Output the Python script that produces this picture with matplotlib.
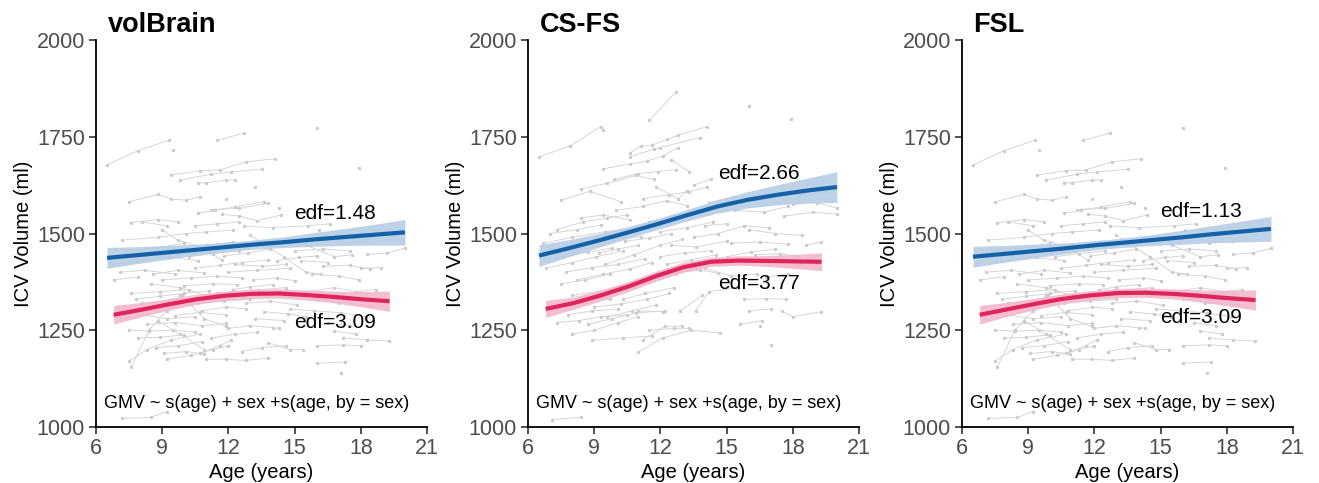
import matplotlib
matplotlib.use("Agg")
import matplotlib.pyplot as plt

plt.rcParams['font.family'] = ['Liberation Sans', 'DejaVu Sans']

# ---- data -------------------------------------------------------------
panel_titles = ["volBrain", "CS-FS", "FSL"]
x_ticks = [6, 9, 12, 15, 18, 21]
y_ticks = [1000, 1250, 1500, 1750, 2000]
formula = "GMV ~ s(age) + sex +s(age, by = sex)"

subjects_vb = [
    [(6.5, 1677), (7.9, 1714), (9.3, 1741)],
    [(11.5, 1741), (12.7, 1759)],
    [(9.5, 1717)],
    [(16.0, 1773)],
    [(17.9, 1668)],
    [(9.4, 1651), (10.7, 1662), (11.6, 1664), (12.8, 1685), (14.1, 1693)],
    [(9.8, 1638), (11.2, 1653), (12.1, 1659), (13.5, 1666)],
    [(10.6, 1631), (11.0, 1631), (11.9, 1638), (12.3, 1638)],
    [(13.2, 1621)],
    [(7.5, 1582), (8.8, 1601), (9.4, 1589), (10.1, 1586), (10.7, 1595)],
    [(11.9, 1588)],
    [(11.2, 1562), (12.5, 1565), (13.8, 1578)],
    [(10.6, 1552), (11.4, 1560), (12.3, 1569), (13.6, 1582)],
    [(7.6, 1528), (8.8, 1536), (9.7, 1530)],
    [(11.7, 1550), (12.5, 1545), (13.3, 1533), (14.4, 1548)],
    [(14.3, 1565)],
    [(16.1, 1508)],
    [(7.2, 1483), (8.8, 1490), (10.1, 1500), (11.0, 1504), (12.2, 1509)],
    [(9.0, 1509), (9.7, 1483), (10.8, 1465), (11.7, 1431)],
    [(7.3, 1455), (8.7, 1462), (10.0, 1475)],
    [(6.7, 1420), (7.8, 1428), (9.3, 1440), (10.5, 1452)],
    [(12.7, 1520), (14.0, 1515), (15.6, 1520), (16.6, 1525)],
    [(14.6, 1483), (15.5, 1470), (16.8, 1440), (17.6, 1445)],
    [(18.3, 1446), (19.2, 1450), (20.0, 1462)],
    [(13.0, 1495), (14.5, 1440), (15.5, 1400), (16.2, 1395)],
    [(16.3, 1415), (17.5, 1418), (18.4, 1408)],
    [(11.8, 1442), (12.9, 1450), (13.9, 1460)],
    [(8.2, 1445), (9.4, 1438), (10.6, 1430)],
    [(10.5, 1410), (11.6, 1418), (12.6, 1425), (13.8, 1432)],
    [(15.3, 1430), (16.5, 1425)],
    [(17.2, 1475), (18.3, 1480)],
    [(12.0, 1400), (13.3, 1405), (14.8, 1410)],
    [(7.1, 1400), (8.2, 1405), (9.6, 1395)],
    [(6.8, 1380), (7.9, 1388)],
    [(9.0, 1380), (10.3, 1385), (11.5, 1390), (12.6, 1385)],
    [(13.1, 1380), (14.2, 1385), (15.0, 1378)],
    [(15.8, 1395), (17.0, 1390), (17.9, 1380)],
    [(8.5, 1370), (9.8, 1360), (11.0, 1340), (11.8, 1330)],
    [(10.0, 1365), (11.3, 1370), (12.4, 1368)],
    [(14.5, 1340), (15.6, 1350), (16.8, 1360), (18.3, 1345)],
    [(7.6, 1345), (8.9, 1350), (10.2, 1355)],
    [(12.8, 1320), (13.9, 1325), (15.1, 1315)],
    [(7.0, 1310), (8.1, 1320), (9.3, 1325)],
    [(10.8, 1300), (11.9, 1310), (12.8, 1305)],
    [(8.0, 1290), (9.2, 1280), (10.5, 1285)],
    [(13.2, 1280), (14.5, 1275)],
    [(15.9, 1300), (17.1, 1295), (18.2, 1285)],
    [(8.3, 1265), (9.6, 1270), (10.8, 1262), (11.9, 1268)],
    [(7.5, 1250), (8.4, 1248), (9.5, 1250), (10.5, 1245)],
    [(12.0, 1255), (13.0, 1262), (14.3, 1255)],
    [(16.5, 1270), (17.5, 1262)],
    [(17.2, 1230), (18.3, 1225), (19.3, 1222)],
    [(16.0, 1210), (17.2, 1212), (18.0, 1210)],
    [(16.0, 1165), (17.3, 1168)],
    [(17.1, 1140)],
    [(7.5, 1170), (8.3, 1200), (9.4, 1225), (10.7, 1240)],
    [(7.6, 1155), (8.4, 1250), (9.2, 1300), (9.8, 1340)],
    [(9.1, 1190), (10.1, 1195), (10.9, 1188)],
    [(9.2, 1175), (10.3, 1185), (11.3, 1200), (12.0, 1210)],
    [(11.0, 1175), (11.9, 1175), (12.8, 1172), (13.8, 1178)],
    [(10.7, 1190), (11.6, 1210), (12.1, 1225)],
    [(8.7, 1205), (9.7, 1210), (10.8, 1220)],
    [(13.8, 1218), (14.8, 1200), (15.4, 1200)],
    [(11.2, 1230), (12.3, 1240), (13.3, 1245)],
    [(14.0, 1255)],
    [(7.2, 1022), (8.5, 1025), (9.2, 1040)],
    [(9.3, 1310), (10.6, 1320), (11.8, 1325), (13.0, 1330)],
    [(14.8, 1305), (15.9, 1300)],
    [(11.5, 1345), (12.3, 1350), (13.4, 1355), (14.6, 1360)],
    [(16.0, 1330), (17.0, 1320), (18.5, 1315)],
    [(6.9, 1460)],
    [(8.1, 1530), (9.2, 1520)],
    [(10.5, 1520), (11.5, 1525), (12.5, 1530)],
    [(11.0, 1470), (12.2, 1478), (13.5, 1470), (14.8, 1475)],
    [(15.0, 1455), (16.3, 1460), (17.5, 1455)],
    [(18.0, 1410), (18.9, 1412)],
    [(12.3, 1420), (13.5, 1415), (14.6, 1420)],
    [(9.9, 1340), (10.9, 1280), (11.9, 1260)],
    [(8.8, 1275), (9.8, 1240), (10.9, 1200)],
    [(16.8, 1248), (17.8, 1240)],
    [(7.8, 1330), (8.9, 1338), (10.0, 1345), (11.1, 1352)],
    [(8.6, 1395), (9.7, 1405), (10.9, 1398)],
    [(12.2, 1355), (13.0, 1362), (14.0, 1368)],
    [(9.6, 1288), (10.7, 1296), (11.9, 1290)],
    [(13.6, 1298), (14.7, 1292), (15.5, 1285)],
    [(7.9, 1230), (8.9, 1232), (10.0, 1238)],
    [(12.6, 1195), (13.5, 1205), (14.6, 1210)],
    [(10.2, 1440), (11.3, 1448), (12.5, 1455)],
    [(14.2, 1430), (15.2, 1438), (16.0, 1442)],
    [(17.8, 1350), (18.7, 1355)],
]

# individual trajectories
subjects_cs = [
    [(6.5, 1698), (7.9, 1726), (9.3, 1776)],
    [(9.4, 1768)],
    [(11.5, 1793), (12.7, 1865)],
    [(16.0, 1829)],
    [(17.9, 1797)],
    [(10.6, 1707), (11.1, 1726), (11.6, 1728), (12.3, 1743), (12.8, 1754), (14.1, 1776)],
    [(10.6, 1698), (11.7, 1718), (12.0, 1722), (13.8, 1748)],
    [(9.4, 1667), (10.6, 1680), (11.4, 1687), (12.1, 1700), (12.8, 1722)],
    [(9.9, 1640), (11.0, 1655), (11.9, 1660), (12.7, 1665)],
    [(12.5, 1690), (13.3, 1660)],
    [(7.5, 1586), (8.8, 1609), (10.2, 1582)],
    [(8.4, 1615), (9.6, 1630), (10.9, 1650), (11.7, 1640)],
    [(11.2, 1590), (12.4, 1600), (13.3, 1608), (14.1, 1620)],
    [(10.0, 1560), (11.2, 1570), (12.3, 1585), (13.2, 1572)],
    [(7.3, 1510), (8.5, 1530), (9.6, 1540), (10.5, 1548)],
    [(7.0, 1500), (8.2, 1510), (9.3, 1522)],
    [(6.7, 1475), (8.0, 1490), (9.5, 1505), (10.7, 1512)],
    [(8.5, 1470), (9.9, 1485), (11.1, 1492)],
    [(11.5, 1530), (12.6, 1545), (13.7, 1560), (14.8, 1570)],
    [(12.0, 1505), (13.2, 1515), (14.4, 1530)],
    [(13.5, 1490), (14.6, 1500), (15.8, 1520), (16.9, 1515)],
    [(14.2, 1580), (15.3, 1595), (16.5, 1590)],
    [(15.4, 1560), (16.7, 1555), (17.8, 1570)],
    [(16.0, 1510), (17.2, 1500), (18.4, 1495)],
    [(17.6, 1545), (18.9, 1555), (20.0, 1550)],
    [(15.2, 1475), (16.5, 1478), (17.8, 1472)],
    [(16.3, 1445), (17.4, 1448), (18.3, 1440)],
    [(12.5, 1470), (13.6, 1465), (15.0, 1480)],
    [(6.8, 1410), (8.0, 1425), (9.1, 1440), (10.3, 1455)],
    [(7.7, 1400), (8.9, 1412), (10.1, 1420), (11.3, 1435)],
    [(8.2, 1380), (9.4, 1395), (10.6, 1408), (11.6, 1425)],
    [(9.5, 1420), (10.8, 1445), (12.0, 1470), (13.0, 1485)],
    [(7.5, 1370), (8.6, 1380), (9.7, 1395)],
    [(10.0, 1360), (11.2, 1375), (12.3, 1392)],
    [(12.7, 1400), (13.8, 1405), (14.6, 1398)],
    [(8.0, 1340), (9.2, 1350), (10.4, 1362), (11.5, 1375)],
    [(7.4, 1315), (8.5, 1325), (9.7, 1330)],
    [(9.0, 1310), (10.2, 1318), (11.4, 1330), (12.4, 1345)],
    [(7.8, 1290), (8.9, 1300), (10.1, 1305)],
    [(7.3, 1270), (8.3, 1275), (9.3, 1285), (10.5, 1290)],
    [(8.7, 1265), (9.8, 1280), (10.9, 1295), (12.2, 1300)],
    [(11.0, 1300), (12.1, 1298)],
    [(13.6, 1300), (14.2, 1350), (15.5, 1360)],
    [(14.0, 1410), (15.2, 1390), (16.4, 1395)],
    [(15.8, 1330), (16.8, 1332), (17.7, 1330)],
    [(17.5, 1300), (18.0, 1285), (19.3, 1298)],
    [(16.0, 1300), (17.0, 1305)],
    [(15.6, 1265), (16.6, 1275)],
    [(16.5, 1260)],
    [(17.0, 1212)],
    [(8.0, 1240), (9.0, 1250), (10.1, 1270), (11.0, 1285)],
    [(8.9, 1224), (10.3, 1230), (11.6, 1235)],
    [(11.0, 1194), (12.1, 1230), (13.4, 1250), (14.7, 1243)],
    [(11.2, 1225), (12.2, 1260), (13.0, 1260)],
    [(11.5, 1250), (12.6, 1255), (13.3, 1255)],
    [(7.1, 1019), (8.4, 1025)],
    [(12.9, 1300), (13.9, 1340)],
    [(10.3, 1330), (11.3, 1345), (12.6, 1360)],
    [(16.8, 1388), (17.8, 1395)],
    [(17.2, 1440), (18.3, 1420), (19.1, 1425)],
    [(18.6, 1470), (19.3, 1478)],
    [(12.0, 1440), (13.1, 1450), (14.3, 1455)],
    [(10.4, 1480), (11.5, 1488), (12.5, 1500)],
    [(14.0, 1520), (15.0, 1525)],
    [(8.4, 1540), (9.4, 1548), (10.6, 1535)],
    [(11.8, 1620), (12.8, 1590), (13.2, 1610)],
    [(13.5, 1625), (14.3, 1640)],
    [(18.3, 1600), (19.5, 1608)],
    [(18.0, 1575), (19.1, 1580), (20.0, 1565)],
    [(9.2, 1450), (10.1, 1460), (11.0, 1470)],
    [(7.6, 1440), (8.7, 1452), (9.8, 1462)],
    [(11.6, 1380), (12.7, 1395), (13.6, 1412)],
    [(9.6, 1285), (10.7, 1300), (11.8, 1315)],
    [(12.3, 1420), (13.4, 1432), (14.5, 1445)],
    [(15.0, 1440), (16.1, 1452), (17.2, 1460)],
]

# fitted GAM curves (male = blue, female = pink) with half-width of the CI band
age_m = [6.5, 7.85, 9.2, 10.55, 11.9, 13.25, 14.6, 15.95, 17.3, 18.65, 20.0]
age_f = [6.8, 8.05, 9.3, 10.55, 11.8, 13.05, 14.3, 15.55, 16.8, 18.05, 19.3]

fit_m = {
    "volBrain": [1437, 1444, 1451, 1458, 1465, 1472, 1478, 1485, 1491, 1497, 1503],
    "CS-FS":    [1443, 1462, 1482, 1503, 1525, 1548, 1570, 1587, 1600, 1611, 1620],
    "FSL":      [1440, 1447, 1454, 1461, 1469, 1476, 1483, 1490, 1498, 1505, 1512],
}
band_m = {
    "volBrain": [27, 22, 18, 14, 12, 12, 14, 18, 22, 27, 33],
    "CS-FS":    [28, 22, 18, 15, 14, 15, 17, 21, 26, 32, 40],
    "FSL":      [27, 22, 18, 14, 12, 12, 14, 18, 22, 27, 32],
}
fit_f = {
    "volBrain": [1290, 1303, 1317, 1330, 1339, 1344, 1345, 1341, 1336, 1330, 1325],
    "CS-FS":    [1305, 1320, 1340, 1363, 1390, 1413, 1427, 1430, 1429, 1428, 1427],
    "FSL":      [1290, 1304, 1318, 1331, 1340, 1346, 1347, 1344, 1339, 1333, 1328],
}
band_f = {
    "volBrain": [24, 18, 15, 13, 12, 12, 12, 13, 15, 20, 26],
    "CS-FS":    [22, 16, 14, 13, 13, 13, 12, 12, 14, 18, 23],
    "FSL":      [24, 18, 15, 13, 12, 12, 12, 13, 15, 20, 26],
}

edf_m = {"volBrain": "edf=1.48", "CS-FS": "edf=2.66", "FSL": "edf=1.13"}
edf_f = {"volBrain": "edf=3.09", "CS-FS": "edf=3.77", "FSL": "edf=3.09"}
edf_pos_m = {"volBrain": (15.0, 1552), "CS-FS": (14.6, 1655), "FSL": (15.0, 1556)}
edf_pos_f = {"volBrain": (15.0, 1270), "CS-FS": (14.6, 1372), "FSL": (15.0, 1282)}

subjects = {"volBrain": subjects_vb, "CS-FS": subjects_cs, "FSL": subjects_vb}

# ---- figure -------------------------------------------------------------
fig = plt.figure(figsize=(13.19, 4.83), dpi=100)
lefts = [96, 528, 962]
W, H = 1319, 483

blue, blue_band = "#1461a8", "#b6cde5"
pink, pink_band = "#e0245d", "#f2b8cb"

for name, lx in zip(panel_titles, lefts):
    ax = fig.add_axes([lx / W, (H - 427) / H, 331 / W, 387 / H])

    for subj in subjects[name]:
        ages = [p[0] for p in subj]
        vols = [p[1] for p in subj]
        ax.plot(ages, vols, color="#d6d6d6", lw=0.7, zorder=1)
        ax.scatter(ages, vols, s=6, color="#cbcbcb", lw=0, zorder=1)

    lo = [f - b for f, b in zip(fit_m[name], band_m[name])]
    hi = [f + b for f, b in zip(fit_m[name], band_m[name])]
    ax.fill_between(age_m, lo, hi, color=blue_band, lw=0, alpha=0.9, zorder=2)
    ax.plot(age_m, fit_m[name], color=blue, lw=3, zorder=3, solid_capstyle="butt")

    lo = [f - b for f, b in zip(fit_f[name], band_f[name])]
    hi = [f + b for f, b in zip(fit_f[name], band_f[name])]
    ax.fill_between(age_f, lo, hi, color=pink_band, lw=0, alpha=0.9, zorder=2)
    ax.plot(age_f, fit_f[name], color=pink, lw=3, zorder=3, solid_capstyle="butt")

    ax.text(*edf_pos_m[name], edf_m[name], fontsize=15, va="center", ha="left", zorder=4)
    ax.text(*edf_pos_f[name], edf_f[name], fontsize=15, va="center", ha="left", zorder=4)
    ax.text(6.35, 1060, formula, fontsize=13, va="center", ha="left", zorder=4)

    ax.set_xlim(6, 21)
    ax.set_ylim(1000, 2000)
    ax.set_xticks(x_ticks)
    ax.set_yticks(y_ticks)
    ax.tick_params(labelsize=15.5, labelcolor="#4d4d4d", length=5, width=1.1,
                   color="#222222", pad=3)
    for side in ("top", "right"):
        ax.spines[side].set_visible(False)
    for side in ("left", "bottom"):
        ax.spines[side].set_linewidth(1.3)

    ax.set_xlabel("Age (years)", fontsize=14.5)
    ax.set_ylabel("ICV Volume (ml)", fontsize=14.5)
    ax.xaxis.set_label_coords(0.5, -0.093)
    ax.yaxis.set_label_coords(-0.19, 0.5)

    ax.text(0.035, 1.04, name, transform=ax.transAxes, fontsize=19.5,
            fontweight="bold", va="center", ha="left")

fig.savefig("out.png", dpi=100)
